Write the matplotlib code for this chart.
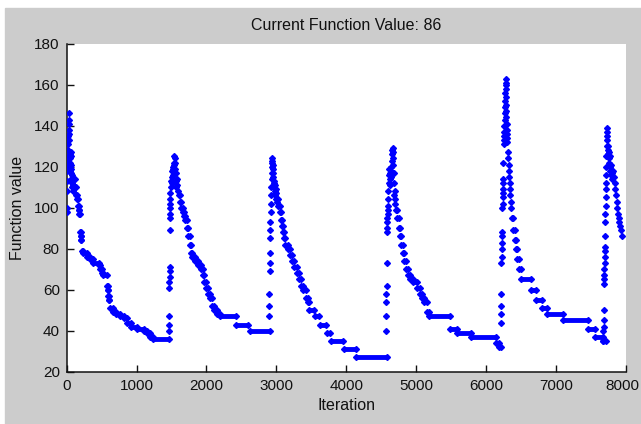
import os
os.environ.setdefault("MPLBACKEND", "Agg")
import numpy as np
import matplotlib.pyplot as plt
from matplotlib.patches import Rectangle
from matplotlib.transforms import ScaledTranslation

# scattered points around each restart (iteration, function value)
burst_iter = [
    0, 0, 0, 5, 8, 10, 12, 15, 18, 20, 22, 25, 28, 30, 32, 35, 38, 40, 42, 45,
    48, 50, 52, 55, 58, 60, 62, 65, 68, 70, 75, 80, 85, 90,
    1462, 1465, 1468, 1470, 1470, 1472, 1472, 1474, 1476, 1478, 1478, 1480,
    1480, 1482, 1485, 1490, 1495, 1500, 1505, 1510, 1515, 1520, 1525, 1530,
    1535, 1540, 1545, 1550, 1555, 1560, 1565, 1570, 1575, 1580, 1590,
    2895, 2898, 2900, 2903, 2905, 2907, 2910, 2912, 2915, 2920, 2925, 2928,
    2930, 2932, 2935, 2938, 2940, 2942, 2945, 2948, 2950, 2955, 2958, 2960,
    2965, 2970, 2975, 2980, 2985, 2990, 2995, 3000, 3005,
    4570, 4572, 4574, 4576, 4578, 4580, 4585, 4587, 4588, 4590, 4592, 4595,
    4597, 4600, 4605, 4610, 4612, 4615, 4620, 4625, 4630, 4635, 4640, 4645,
    4650, 4655, 4660, 4664, 4668, 4672, 4676, 4680, 4685, 4690, 4695, 4700,
    4705,
    6215, 6217, 6219, 6220, 6222, 6224, 6226, 6228, 6230, 6232, 6235, 6237,
    6239, 6241, 6243, 6245, 6247, 6250, 6255, 6258, 6260, 6262, 6265, 6268,
    6270, 6272, 6275, 6278, 6280, 6282, 6284, 6286, 6288, 6290, 6292, 6294,
    6296, 6298, 6300, 6303, 6306, 6315, 6320, 6325, 6330, 6335, 6340, 6345,
    6350, 6355, 6360,
    7680, 7682, 7684, 7686, 7688, 7690, 7692, 7694, 7696, 7698, 7700, 7702,
    7704, 7706, 7708, 7710, 7712, 7714, 7716, 7718, 7720, 7722, 7724, 7726,
    7728, 7730, 7734, 7738, 7742, 7746, 7750, 7755, 7760, 7765, 7770, 7775,
    7780, 7785, 7790, 7795, 7800, 7810, 7820, 7830, 7840, 7850, 7860, 7870,
    7880, 7890, 7900, 7910, 7920, 7930, 7940,
]
burst_val = [
    108, 100, 98, 113, 118, 121, 125, 123, 120, 128, 131, 135, 138, 141, 146,
    143, 136, 133, 126, 124, 122, 120, 118, 117, 125, 127, 121, 119, 114, 116,
    112, 110, 111, 108,
    40, 43, 47, 61, 64, 66, 69, 71, 89, 95, 97, 100, 102, 104, 107, 110, 113,
    112, 115, 118, 116, 120, 119, 122, 121, 125, 124, 122, 119, 117, 113, 110,
    114, 111, 108,
    47, 52, 58, 69, 73, 78, 85, 89, 93, 98, 102, 106, 110, 114, 117, 120, 122,
    124, 123, 121, 119, 117, 115, 113, 112, 110, 108, 106, 111, 109, 104, 107,
    103,
    40, 47, 54, 58, 62, 73, 88, 90, 93, 95, 97, 99, 101, 104, 108, 112, 116,
    119, 117, 114, 111, 115, 118, 120, 123, 126, 128, 129, 127, 124, 121, 117,
    112, 106, 102, 108, 104,
    44, 48, 52, 58, 73, 76, 80, 83, 86, 88, 100, 102, 105, 107, 109, 112, 114,
    122, 131, 133, 135, 137, 140, 143, 146, 149, 152, 156, 160, 163, 161, 158,
    154, 150, 147, 144, 141, 138, 136, 134, 132, 127, 124, 121, 118, 115, 112,
    109, 106, 103, 100,
    35, 40, 42, 45, 50, 63, 65, 67, 70, 73, 76, 79, 81, 86, 93, 97, 101, 105,
    109, 112, 116, 120, 125, 130, 135, 139, 137, 133, 130, 128, 126, 124, 122,
    127, 125, 120, 118, 116, 121, 118, 117, 114, 118, 115, 112, 109, 106, 103,
    100, 97, 95, 93, 91, 89, 86,
]

# runs where the value stays constant: start, end, value
run_start = [
    100, 120, 135, 150, 160, 170, 180, 195, 200, 205, 215, 240, 290, 330, 370,
    460, 480, 500, 520, 580, 585, 595, 600, 620, 660, 700, 760, 820, 860, 920,
    1010, 1100, 1150, 1190, 1240,
    1600, 1620, 1640, 1660, 1680, 1700, 1720, 1740, 1760, 1780, 1800, 1840,
    1880, 1920, 1950, 1970, 2000, 2020, 2050, 2080, 2110, 2150, 2200, 2420,
    2620,
    3010, 3030, 3050, 3065, 3080, 3095, 3110, 3125, 3160, 3200, 3230, 3260,
    3290, 3320, 3350, 3380, 3420, 3450, 3470, 3560, 3630, 3730, 3780, 3970,
    4140,
    4712, 4730, 4750, 4770, 4790, 4810, 4830, 4850, 4880, 4920, 4960, 5020,
    5050, 5080, 5110, 5150, 5190, 5480, 5580, 5780, 6140, 6180,
    6370, 6390, 6410, 6430, 6450, 6480, 6505, 6650, 6720, 6800, 6870, 7100,
    7460, 7560, 7680,
]
run_end = [
    120, 135, 150, 160, 170, 180, 190, 200, 205, 210, 240, 290, 330, 370, 460,
    480, 500, 520, 575, 585, 590, 600, 605, 660, 700, 760, 820, 860, 920, 1010,
    1100, 1150, 1190, 1240, 1460,
    1620, 1640, 1660, 1680, 1700, 1720, 1740, 1760, 1780, 1800, 1840, 1880,
    1920, 1950, 1970, 2000, 2020, 2050, 2080, 2110, 2150, 2200, 2420, 2600,
    2910,
    3030, 3050, 3065, 3080, 3095, 3110, 3125, 3160, 3200, 3230, 3260, 3290,
    3320, 3350, 3380, 3420, 3450, 3470, 3540, 3610, 3710, 3770, 3960, 4140,
    4590,
    4730, 4750, 4770, 4790, 4810, 4830, 4850, 4880, 4920, 4960, 5020, 5050,
    5080, 5110, 5150, 5190, 5480, 5580, 5780, 6140, 6180, 6210,
    6390, 6410, 6430, 6450, 6480, 6505, 6650, 6720, 6800, 6870, 7100, 7460,
    7560, 7680, 7720,
]
run_val = [
    114, 110, 106, 104, 101, 99, 97, 88, 86, 84, 79, 78, 76, 75, 73, 72, 70,
    68, 67, 62, 60, 57, 55, 51, 49, 48, 47, 46, 44, 42, 41, 40, 39, 37, 36,
    106, 103, 100, 98, 96, 94, 90, 86, 82, 78, 76, 74, 72, 70, 67, 64, 61, 58,
    56, 52, 50, 48, 47, 43, 40,
    104, 101, 98, 94, 91, 88, 85, 82, 80, 77, 74, 71, 68, 65, 62, 60, 56, 54,
    50, 47, 43, 39, 35, 31, 27,
    99, 95, 90, 86, 82, 78, 74, 70, 67, 65, 64, 61, 58, 56, 54, 49, 47, 41,
    39, 37, 34, 32,
    95, 89, 84, 80, 75, 70, 65, 60, 55, 51, 48, 45, 41, 37, 35,
]

x_ticks = [0, 1000, 2000, 3000, 4000, 5000, 6000, 7000, 8000]
y_ticks = [20, 40, 60, 80, 100, 120, 140, 160, 180]
current_value = 86

plt.rcParams["font.family"] = ["Liberation Sans", "DejaVu Sans"]
ink = "#111111"

fig = plt.figure(figsize=(6.41, 4.24), dpi=100, facecolor="white")
fig.patches.append(Rectangle((5 / 641, 0), 1, 1 - 8 / 424,
                             transform=fig.transFigure,
                             color="#cccccc", zorder=-10))
ax = fig.add_axes([66.7 / 641, 1 - 371.7 / 424, 559 / 641, 328 / 424])
ax.set_facecolor("white")

blue = "#0000ff"
ax.hlines(run_val, run_start, run_end, color=blue, lw=3.5, zorder=3)
ax.plot(run_start + run_end, run_val + run_val, ls="none", marker="D",
        ms=3.0, color=blue, mec=blue, zorder=3)
ax.plot(burst_iter, burst_val, ls="none", marker="D", ms=3.0,
        color=blue, mec=blue, zorder=3)

ax.set_xlim(0, 8000)
ax.set_ylim(20, 180)
ax.set_xticks(x_ticks)
ax.set_yticks(y_ticks)
ax.tick_params(direction="in", length=5, width=1, colors=ink,
               labelsize=11, top=False, right=False)
ax.tick_params(axis="x", pad=5)
ax.tick_params(axis="y", pad=5)
for s in ("top", "right"):
    ax.spines[s].set_visible(False)
for s in ("left", "bottom"):
    ax.spines[s].set_linewidth(1.1)
    ax.spines[s].set_color(ink)
ax.set_title(f"Current Function Value: {current_value}", fontsize=11.5,
             pad=10, color=ink)
ax.set_xlabel("Iteration", fontsize=11.5, labelpad=4, color=ink)
ax.set_ylabel("Function value", fontsize=11.5, labelpad=7, color=ink)

# last x label sits against the right edge, nudge it inward a little
last = ax.get_xticklabels()[-1]
last.set_transform(last.get_transform()
                   + ScaledTranslation(-3 / 100, 0, fig.dpi_scale_trans))

fig.savefig("out.png", dpi=100, facecolor=fig.get_facecolor())
